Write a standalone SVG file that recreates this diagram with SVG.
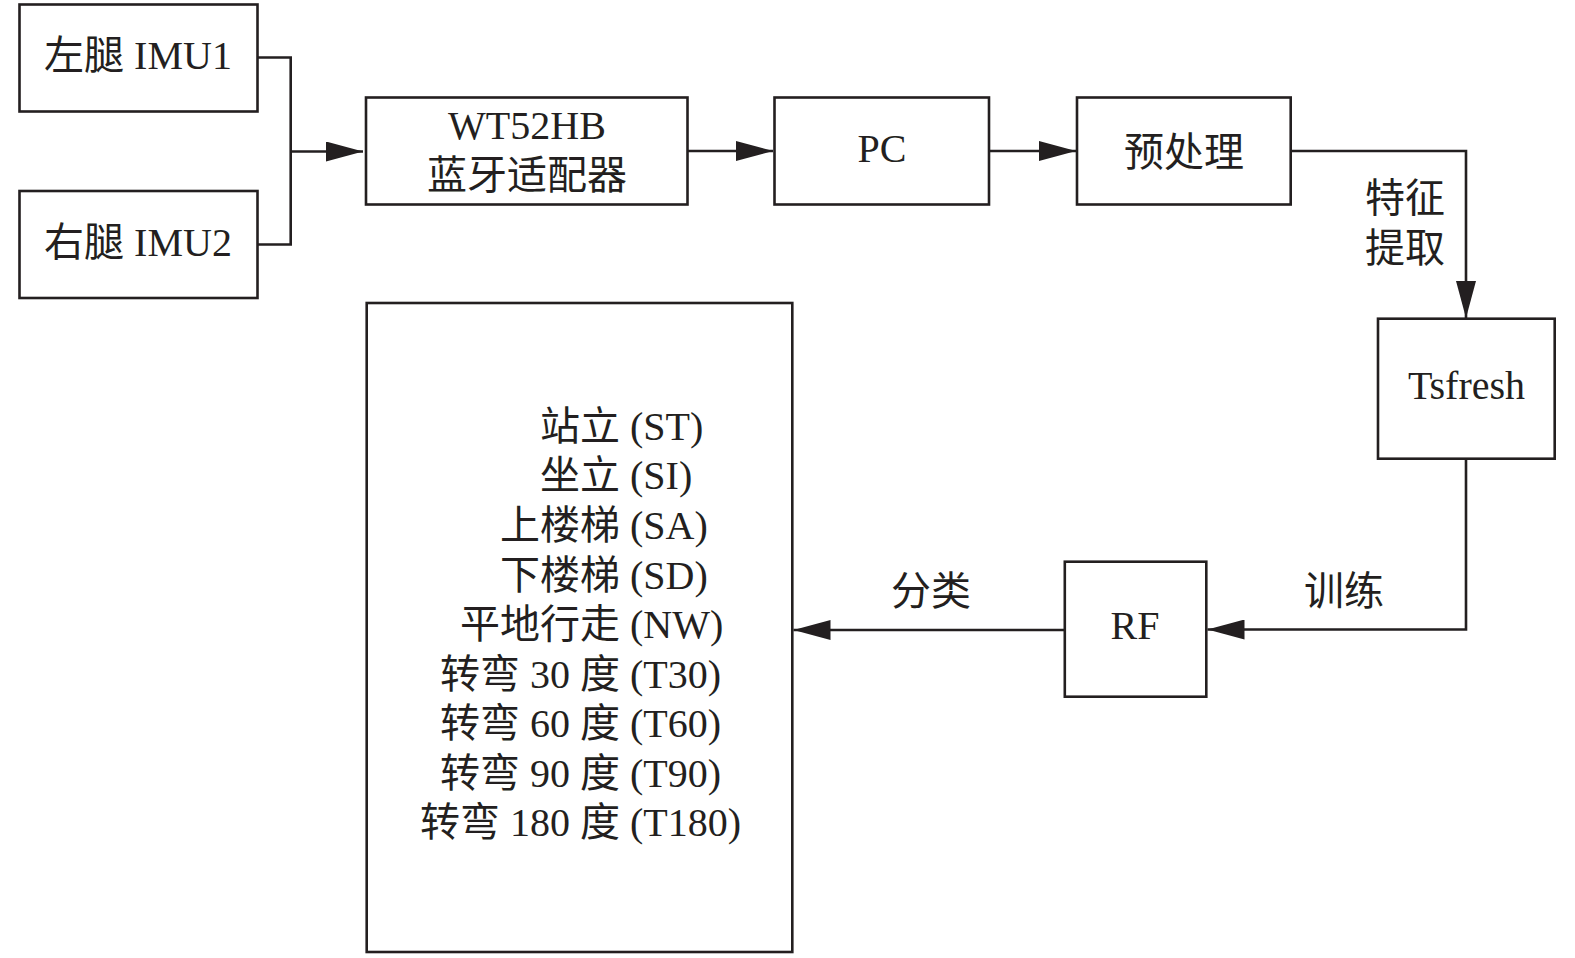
<svg xmlns="http://www.w3.org/2000/svg" width="1575" height="958" viewBox="0 0 1575 958">
<defs>
<style>
.box{fill:#ffffff;stroke:#231f20;stroke-width:2.6}
.ln{fill:none;stroke:#231f20;stroke-width:2.6}
text{font-family:"Liberation Serif","Noto Sans CJK SC",serif;font-size:40px;fill:#231f20}
.c{text-anchor:middle}
.e{text-anchor:end}
</style>
<marker id="arr" markerUnits="userSpaceOnUse" markerWidth="38" markerHeight="20" refX="37" refY="10" orient="auto" viewBox="0 0 38 20">
<path d="M0,0 L37,10 L0,20 Z" fill="#231f20"/>
</marker>
</defs>
<rect width="1575" height="958" fill="#ffffff"/>
<g id="connectors">
<path class="ln" d="M257.5,57.5 H290.7 V244.5 H257.5"/>
<path class="ln" d="M290.7,151.5 H363" marker-end="url(#arr)"/>
<path class="ln" d="M687.5,151 H773" marker-end="url(#arr)"/>
<path class="ln" d="M989,151 H1076" marker-end="url(#arr)"/>
<path class="ln" d="M1290.7,151 H1466 V318" marker-end="url(#arr)"/>
<path class="ln" d="M1466,458.7 V629.5 H1207.5" marker-end="url(#arr)"/>
<path class="ln" d="M1064.8,630 H793.5" marker-end="url(#arr)"/>
<text x="1365" y="212">特征</text>
<text x="1365" y="262">提取</text>
<text x="891" y="605">分类</text>
<text x="1304" y="605">训练</text>
</g>
<g id="imu1">
<rect class="box" x="19.5" y="4.5" width="238" height="107"/>
<text class="c" x="138" y="69">左腿 IMU1</text>
</g>
<g id="imu2">
<rect class="box" x="19.5" y="191" width="238" height="107"/>
<text class="c" x="138" y="256">右腿 IMU2</text>
</g>
<g id="wt52hb">
<rect class="box" x="366" y="97.5" width="321.5" height="107"/>
<text class="c" x="527" y="139">WT52HB</text>
<text class="c" x="527" y="189">蓝牙适配器</text>
</g>
<g id="pc">
<rect class="box" x="774.5" y="97.5" width="214.5" height="107"/>
<text class="c" x="882" y="162">PC</text>
</g>
<g id="preprocess">
<rect class="box" x="1077" y="97.5" width="213.7" height="107"/>
<text class="c" x="1184" y="166">预处理</text>
</g>
<g id="tsfresh">
<rect class="box" x="1378" y="318.7" width="176.7" height="140"/>
<text class="c" x="1466.5" y="399">Tsfresh</text>
</g>
<g id="rf">
<rect class="box" x="1064.8" y="561.7" width="141.5" height="135"/>
<text class="c" x="1135" y="639">RF</text>
</g>
<g id="classes">
<rect class="box" x="366.7" y="303" width="425.6" height="649"/>
<text class="e" x="620" y="440">站立</text><text x="630" y="440">(ST)</text>
<text class="e" x="620" y="489">坐立</text><text x="630" y="489">(SI)</text>
<text class="e" x="620" y="539">上楼梯</text><text x="630" y="539">(SA)</text>
<text class="e" x="620" y="589">下楼梯</text><text x="630" y="589">(SD)</text>
<text class="e" x="620" y="638">平地行走</text><text x="630" y="638">(NW)</text>
<text class="e" x="620" y="688">转弯 30 度</text><text x="630" y="688">(T30)</text>
<text class="e" x="620" y="737">转弯 60 度</text><text x="630" y="737">(T60)</text>
<text class="e" x="620" y="787">转弯 90 度</text><text x="630" y="787">(T90)</text>
<text class="e" x="620" y="836">转弯 180 度</text><text x="630" y="836">(T180)</text>
</g>
</svg>
